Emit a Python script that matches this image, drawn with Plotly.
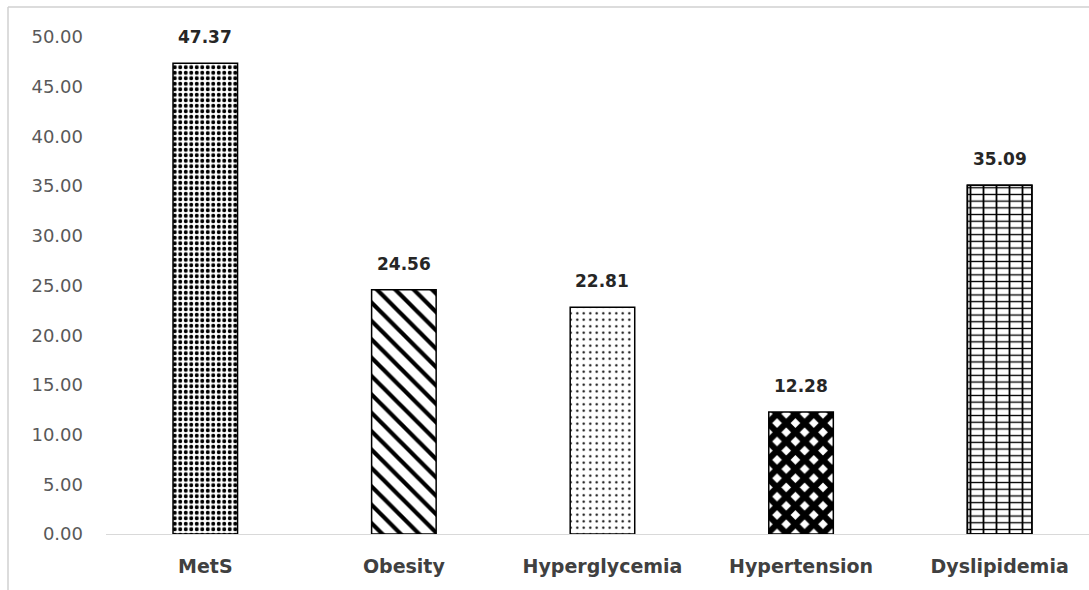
import plotly.graph_objects as go

# Prevalence (%) of metabolic components
categories = ["MetS", "Obesity", "Hyperglycemia", "Hypertension", "Dyslipidemia"]
values = [47.37, 24.56, 22.81, 12.28, 35.09]
y_ticks = [0, 5, 10, 15, 20, 25, 30, 35, 40, 45, 50]
y_tick_labels = [f"{v:.2f}" for v in y_ticks]

# Fill pattern for each bar
pattern_shapes = [".", "\\", ".", "x", "-"]
pattern_sizes = [5.5, 13, 6.5, 13, 6.7]
pattern_solidity = [0.42, 0.32, 0.1, 0.72, 0.2]

FONT = "DejaVu Sans"
W, H = 1089, 590
L, R, T, B = 106, 0, 37, 56
plot_w = W - L - R
plot_h = H - T - B

fig = go.Figure()

fig.add_trace(go.Bar(
    x=categories,
    y=values,
    width=0.325,
    marker=dict(
        color="black",
        opacity=1,
        line=dict(color="black", width=1.5),
        pattern=dict(
            shape=pattern_shapes,
            size=pattern_sizes,
            solidity=pattern_solidity,
            fgcolor="black",
            bgcolor="white",
            fgopacity=1,
        ),
    ),
    hoverinfo="x+y",
))

# vertical mortar joints for the brick fill
fig.add_trace(go.Bar(
    x=[categories[4]],
    y=[values[4]],
    width=0.325,
    marker=dict(
        color="black",
        opacity=1,
        line=dict(color="black", width=1.5),
        pattern=dict(shape="|", size=13, solidity=0.14,
                     fgcolor="black", bgcolor="rgba(0,0,0,0)", fgopacity=1),
    ),
    hoverinfo="skip",
))

# value labels above each bar
for cat, val in zip(categories, values):
    fig.add_annotation(
        x=cat, y=val, text=f"<b>{val:.2f}</b>",
        showarrow=False, yshift=26, yanchor="middle",
        font=dict(family=FONT, size=17, color="#262626"),
    )

# light chart frame (left and top edges)
fx = (8 - L) / plot_w
fy_top = (H - 7 - B) / plot_h
fy_bot = (0 - B) / plot_h
fig.add_shape(type="line", xref="paper", yref="paper",
              x0=fx, x1=1.05, y0=fy_top, y1=fy_top,
              line=dict(color="#d0d0d0", width=1.5))
fig.add_shape(type="line", xref="paper", yref="paper",
              x0=fx, x1=fx, y0=fy_bot - 0.05, y1=fy_top,
              line=dict(color="#d0d0d0", width=1.5))

fig.update_layout(
    width=W, height=H,
    margin=dict(l=L, r=R, t=T, b=B, pad=0),
    paper_bgcolor="white",
    plot_bgcolor="white",
    barmode="overlay",
    showlegend=False,
    font=dict(family=FONT),
)
fig.update_xaxes(
    range=[-0.5, 4.45],
    showline=True, linecolor="#d9d9d9", linewidth=1,
    showgrid=False, ticks="", zeroline=False,
    tickfont=dict(family=FONT, size=19, color="#404040", weight="bold"),
    ticklabelstandoff=15,
)
fig.update_yaxes(
    range=[0, 50],
    tickvals=y_ticks, ticktext=y_tick_labels,
    showline=False, showgrid=False, zeroline=False, ticks="",
    tickfont=dict(family=FONT, size=18, color="#595959"),
    ticklabelstandoff=22,
)

fig.write_html("out.html")
